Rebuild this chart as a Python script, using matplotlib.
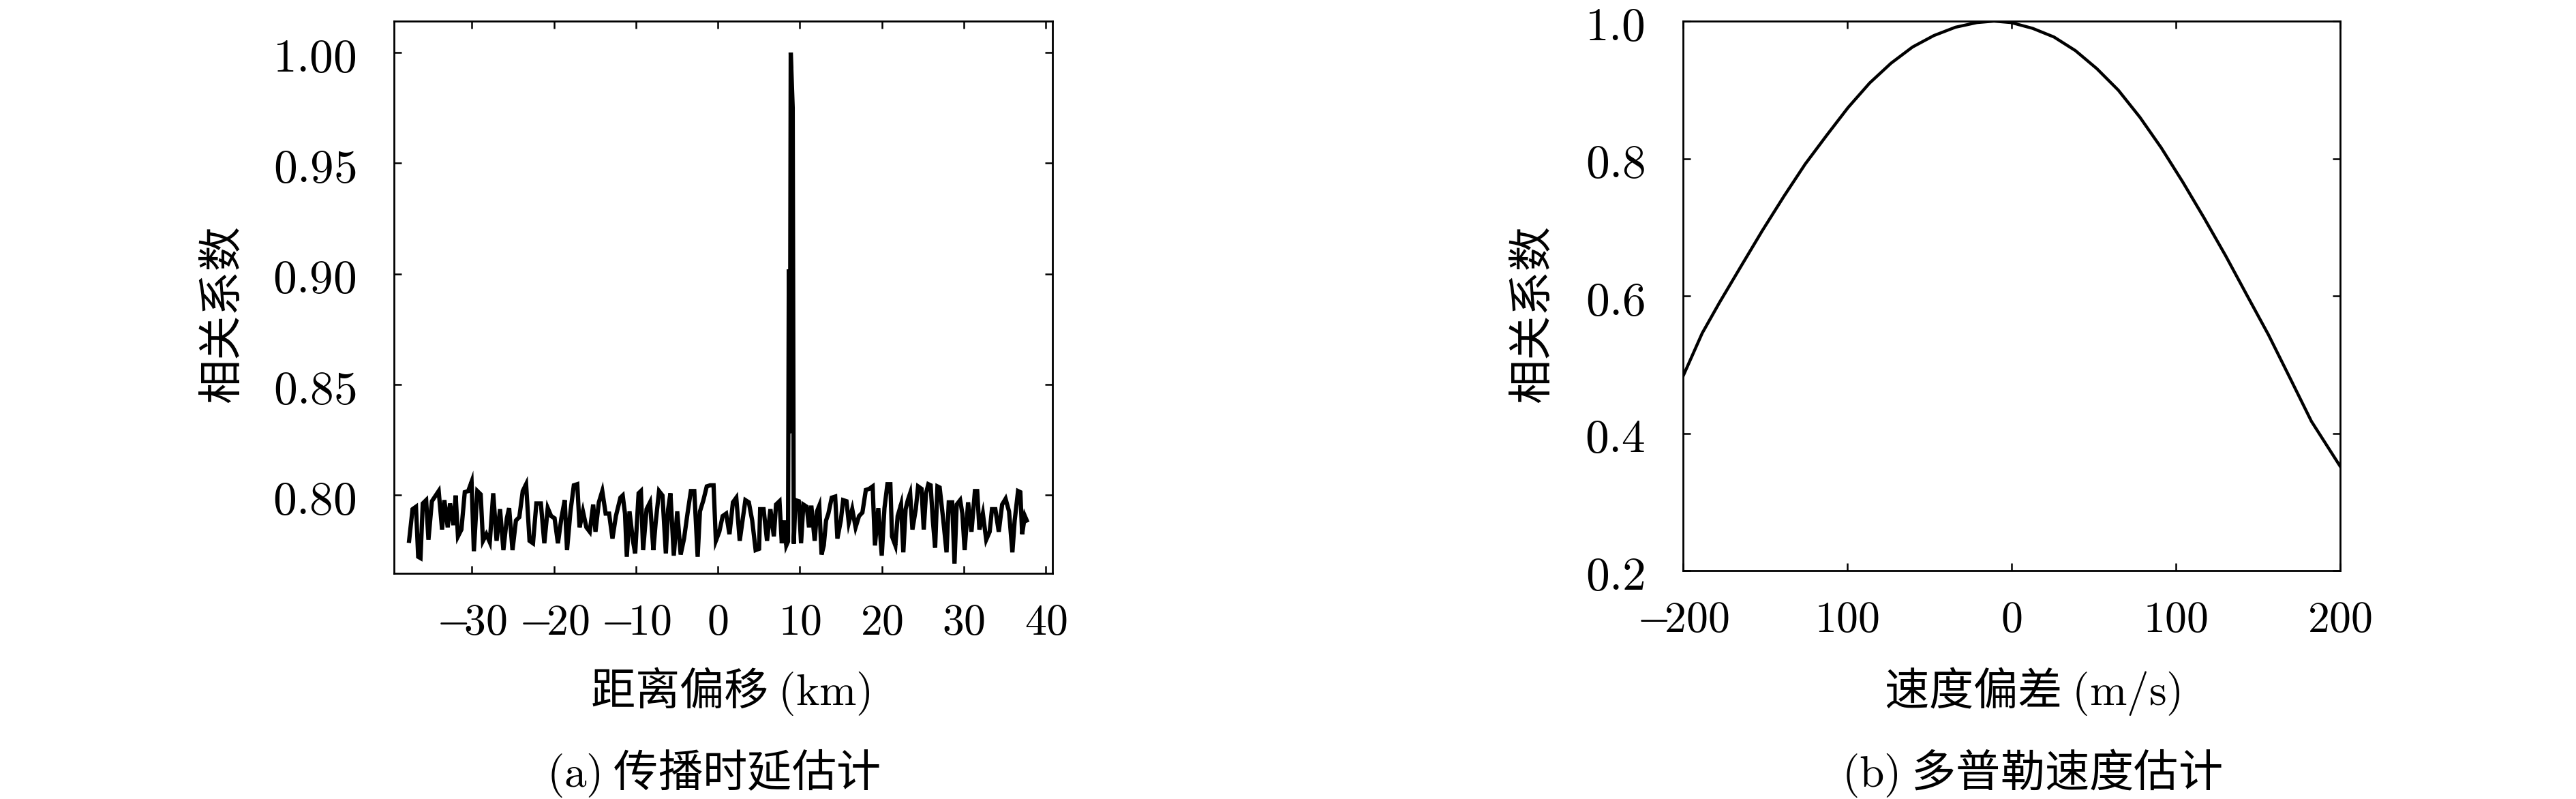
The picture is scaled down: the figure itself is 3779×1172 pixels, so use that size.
import matplotlib
matplotlib.use("Agg")
import matplotlib.pyplot as plt

plt.rcParams['font.family'] = ['Noto Sans CJK SC', 'DejaVu Sans']
plt.rcParams['mathtext.fontset'] = 'cm'

# (a) range offset (km) vs correlation coefficient
range_km = [
    -37.66, -37.24, -36.82, -36.55, -36.27, -35.99, -35.58, -35.30, -34.88, -34.05,
    -33.64, -33.36, -32.95, -32.67, -32.25, -31.98, -31.70, -31.28, -30.87, -30.45,
    -30.04, -29.76, -29.34, -28.93, -28.65, -28.24, -27.82, -27.40, -26.99, -26.57,
    -26.16, -25.74, -25.46, -25.05, -24.63, -24.22, -23.80, -23.39, -22.97, -22.55,
    -22.14, -21.59, -21.17, -20.75, -20.34, -19.92, -19.51, -19.09, -18.68, -18.40,
    -17.98, -17.57, -17.15, -16.87, -16.46, -16.04, -15.63, -15.21, -14.93, -14.52,
    -14.10, -13.69, -13.27, -12.86, -12.44, -11.89, -11.61, -11.33, -11.11, -10.78,
    -10.36, -10.09, -9.67, -9.39, -9.12, -8.70, -8.28, -7.87, -7.59, -7.18,
    -6.76, -6.35, -6.07, -5.79, -5.38, -4.96, -4.54, -4.13, -3.71, -3.30,
    -2.88, -2.47, -2.19, -1.77, -1.36, -0.94, -0.53, -0.25, 0.17, 0.58,
    1.00, 1.41, 1.83, 2.24, 2.66, 3.08, 3.35, 3.77, 4.18, 4.60,
    5.02, 5.15, 5.57, 5.99, 6.40, 6.82, 7.09, 7.51, 7.79, 8.06,
    8.34, 8.55, 8.65, 8.78, 8.88, 9.12, 9.25, 9.45, 9.86, 10.14,
    10.42, 10.83, 11.11, 11.39, 11.80, 12.08, 12.36, 12.64, 12.91, 13.19,
    13.47, 13.88, 14.30, 14.57, 14.99, 15.27, 15.68, 15.96, 16.38, 16.79,
    17.21, 17.62, 18.04, 18.45, 18.87, 19.15, 19.56, 19.98, 20.31, 20.67,
    21.03, 21.23, 21.64, 21.92, 22.33, 22.61, 22.89, 23.16, 23.44, 23.72,
    24.13, 24.41, 24.83, 25.10, 25.38, 25.66, 25.94, 26.21, 26.49, 26.77,
    27.04, 27.46, 27.88, 28.15, 28.57, 28.85, 29.12, 29.54, 29.81, 30.09,
    30.51, 30.92, 31.34, 31.62, 31.89, 32.31, 32.72, 33.14, 33.42, 33.83,
    34.25, 34.66, 35.08, 35.50, 35.91, 36.19, 36.60, 36.88, 37.10, 37.43,
    37.66,
]
range_corr = [
    0.7793, 0.7936, 0.7947, 0.7721, 0.7715, 0.7962, 0.7977, 0.7798, 0.7972, 0.8018,
    0.7844, 0.7977, 0.7854, 0.7962, 0.7864, 0.7998, 0.7813, 0.7844, 0.8013, 0.8018,
    0.8060, 0.7746, 0.8018, 0.8003, 0.7793, 0.7823, 0.7787, 0.8008, 0.7793, 0.7936,
    0.7751, 0.7895, 0.7941, 0.7751, 0.7885, 0.7900, 0.8018, 0.8049, 0.7793, 0.7782,
    0.7962, 0.7962, 0.7782, 0.7941, 0.7905, 0.7895, 0.7782, 0.7895, 0.7977, 0.7751,
    0.7926, 0.8044, 0.8049, 0.7854, 0.7926, 0.7854, 0.7834, 0.7957, 0.7834, 0.7967,
    0.8018, 0.7916, 0.7916, 0.7803, 0.7905, 0.7988, 0.7998, 0.7916, 0.7721, 0.7926,
    0.7793, 0.7736, 0.8008, 0.8018, 0.7751, 0.7936, 0.7967, 0.7751, 0.7875, 0.8018,
    0.7998, 0.7736, 0.7936, 0.8008, 0.7726, 0.7926, 0.7731, 0.7803, 0.7916, 0.8018,
    0.8018, 0.7721, 0.7926, 0.7977, 0.8039, 0.8044, 0.8044, 0.7793, 0.7834, 0.7905,
    0.7916, 0.7823, 0.7967, 0.7988, 0.7793, 0.7905, 0.7977, 0.7967, 0.7885, 0.7751,
    0.7757, 0.7936, 0.7936, 0.7793, 0.7936, 0.7813, 0.7957, 0.7972, 0.7782, 0.7885,
    0.7772, 0.7790, 0.9020, 0.8280, 1.0000, 0.9750, 0.7780, 0.7977, 0.7972, 0.7782,
    0.7957, 0.7947, 0.7854, 0.7952, 0.7793, 0.7926, 0.7952, 0.7731, 0.7772, 0.7885,
    0.7916, 0.7988, 0.7993, 0.7803, 0.7885, 0.7977, 0.7972, 0.7875, 0.7936, 0.7854,
    0.7905, 0.7921, 0.8023, 0.8028, 0.8039, 0.7772, 0.7941, 0.7726, 0.7941, 0.8049,
    0.8049, 0.7813, 0.7772, 0.7905, 0.7957, 0.7741, 0.7936, 0.7977, 0.8008, 0.7844,
    0.7936, 0.8039, 0.8028, 0.7844, 0.8008, 0.8049, 0.8044, 0.7885, 0.7762, 0.8039,
    0.8034, 0.7895, 0.7741, 0.7967, 0.7967, 0.7690, 0.7957, 0.7977, 0.7916, 0.7751,
    0.7967, 0.7834, 0.8018, 0.8018, 0.7844, 0.7916, 0.7798, 0.7834, 0.7936, 0.7936,
    0.7834, 0.7957, 0.7983, 0.7926, 0.7741, 0.7885, 0.8018, 0.8013, 0.7823, 0.7905,
    0.7885,
]

# (b) velocity offset (m/s) vs correlation coefficient
vel_ms = [
    -200.0, -188.3, -177.8, -164.8, -151.7, -138.6, -125.6, -112.5, -99.5, -86.4,
    -73.4, -60.3, -47.3, -34.2, -21.1, -10.7, -0.3, 12.8, 25.8, 38.9,
    51.9, 65.0, 78.1, 91.1, 104.2, 117.2, 130.3, 143.3, 156.4, 169.5,
    182.5, 200.0,
]
vel_corr = [
    0.4829, 0.5458, 0.5903, 0.6427, 0.6951, 0.7449, 0.7920, 0.8339, 0.8743, 0.9099,
    0.9387, 0.9623, 0.9790, 0.9911, 0.9979, 1.0000, 0.9979, 0.9895, 0.9769, 0.9570,
    0.9308, 0.8994, 0.8601, 0.8156, 0.7658, 0.7134, 0.6584, 0.6008, 0.5432, 0.4803,
    0.4174, 0.3519,
]

a_xticks = [-30, -20, -10, 0, 10, 20, 30, 40]
a_xlabels = [r'$-\!30$', r'$-\!20$', r'$-\!10$', r'$0$', r'$10$', r'$20$', r'$30$', r'$40$']
a_yticks = [0.80, 0.85, 0.90, 0.95, 1.00]
a_ylabels = [r'$0.80$', r'$0.85$', r'$0.90$', r'$0.95$', r'$1.00$']
b_xticks = [-200, -100, 0, 100, 200]
b_xlabels = [r'$-\!200$', r'$100$', r'$0$', r'$100$', r'$200$']  # as printed in the source
b_yticks = [0.2, 0.4, 0.6, 0.8, 1.0]
b_ylabels = [r'$0.2$', r'$0.4$', r'$0.6$', r'$0.8$', r'$1.0$']

W, H = 3780, 1172
fig = plt.figure(figsize=(W / 100, H / 100), dpi=100)

ax1 = fig.add_axes([578 / W, 1 - 841 / H, (1544 - 578) / W, (841 - 31) / H])
ax2 = fig.add_axes([2469 / W, 1 - 837 / H, (3433 - 2469) / W, (837 - 31) / H])

ax1.plot(range_km, range_corr, color='black', lw=4.5, solid_joinstyle='miter')
ax1.set_xlim(-39.5, 40.8)
ax1.set_ylim(0.7646, 1.0142)
ax1.set_xticks(a_xticks, labels=a_xlabels)
ax1.set_yticks(a_yticks, labels=a_ylabels)

ax2.plot(vel_ms, vel_corr, color='black', lw=3.2)
ax2.set_xlim(-200, 200)
ax2.set_ylim(0.2, 1.0)
ax2.set_xticks(b_xticks, labels=b_xlabels)
ax2.set_yticks(b_yticks, labels=b_ylabels)

for ax in (ax1, ax2):
    for sp in ax.spines.values():
        sp.set_linewidth(2.0)
    ax.tick_params(direction='in', length=8, width=1.8, top=True, right=True)
    ax.tick_params(axis='x', pad=28, labelsize=46)
    ax.tick_params(axis='y', pad=40, labelsize=50)

# axis titles and sub-figure captions
fs = 47
cx1 = (578 + 1544) / 2 / W
cx2 = (2469 + 3433) / 2 / W
fig.text(326 / W, 1 - 460 / H, '相关系数', rotation=90, ha='center', va='center', fontsize=fs)
fig.text(2248 / W, 1 - 460 / H, '相关系数', rotation=90, ha='center', va='center', fontsize=fs)
fig.text(cx1 + 10 / W, 1 - 1014 / H, r'距离偏移 $(\mathrm{km})$', ha='center', va='center', fontsize=fs)
fig.text(cx2 + 30 / W, 1 - 1014 / H, r'速度偏差 $(\mathrm{m/s})$', ha='center', va='center', fontsize=fs)
fig.text(cx1 - 15 / W, 1 - 1134 / H, r'$(\mathrm{a})$ 传播时延估计', ha='center', va='center', fontsize=fs)
fig.text(cx2 + 30 / W, 1 - 1134 / H, r'$(\mathrm{b})$ 多普勒速度估计', ha='center', va='center', fontsize=fs)

fig.savefig('out.png', dpi=100, facecolor='white')
